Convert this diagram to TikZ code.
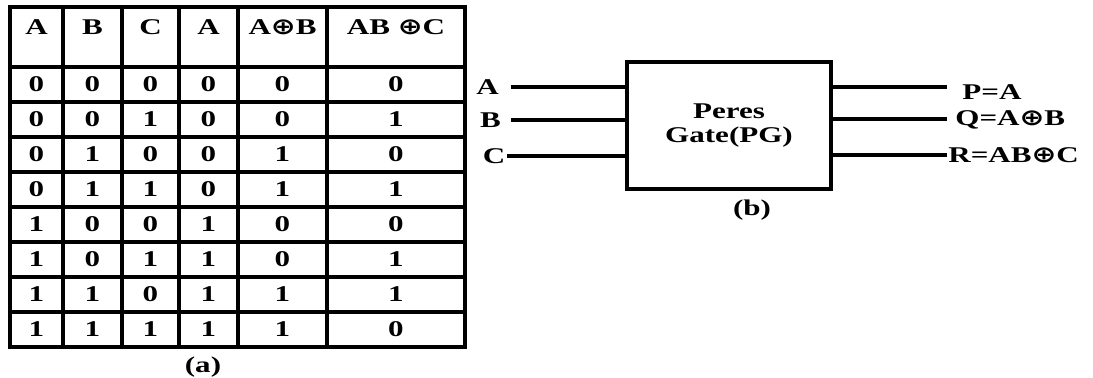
\documentclass[tikz,border=0pt]{standalone}
\usepackage{amsmath}
\usepackage{graphicx}
\usepackage{fontspec}
\setmainfont{Liberation Serif}[FakeStretch=1.38]
\newfontfamily\symfont{DejaVu Sans}[FakeStretch=1.3]
\usetikzlibrary{positioning}
\tikzset{lbl/.style = {font = \fontsize{12.8}{13.6}\selectfont\bfseries, inner sep = 0}}
\tikzset{wire/.style = {line width = 1.8pt}}
\tikzset{grid/.style = {line width = 2pt}}
\tikzset{gate/.style = {lbl, draw, line width = 2pt, align = center, minimum width = 4.08cm, minimum height = 2.54cm}}
\newcommand{\bxor}{{\symfont\bfseries\fontsize{13}{13.6}\selectfont ⊕}}
\def\colx{{36.5, 92.5, 150.5, 208.5, 282.5, 396}}

\begin{document}
\begin{tikzpicture}[x = 0.02cm, y = -0.02cm]
    \useasboundingbox (0, 0) rectangle (1093, 378);
    % truth table
    \draw [grid] (10, 7) rectangle (465, 347);
    \foreach \x in {63, 122, 179, 238, 327}
      \draw [grid] (\x, 7) -- (\x, 347);
    \foreach \y in {67, 102, 137, 172, 207, 242, 277, 312}
      \draw [grid] (10, \y) -- (465, \y);
    \foreach \t [count = \k] in {A, B, C, A, A\bxor B, AB \bxor C} {
      \pgfmathsetmacro\xx{\colx[\k - 1]}
      \node [lbl] (h\k) at (\xx, 27) {\t};
    }
    \foreach \bits [count = \r] in {{0,0,0,0,0,0}, {0,0,1,0,0,1}, {0,1,0,0,1,0}, {0,1,1,0,1,1},
                                     {1,0,0,1,0,0}, {1,0,1,1,0,1}, {1,1,0,1,1,1}, {1,1,1,1,1,0}}
      \foreach \v [count = \k] in \bits {
        \pgfmathsetmacro\xx{\colx[\k - 1]}
        \node [lbl] (v\r-\k) at (\xx, 49.5 + 35 * \r) {\v};
      }
    \node [lbl] (capa) at (203, 367) {(a)};
    % Peres gate
    \node [gate] (pg) at (729, 125.5) {Peres\\Gate(PG)};
    \node [lbl] (ina) at (487.5, 87) {A};
    \node [lbl] (inb) at (490.5, 120) {B};
    \node [lbl] (inc) at (494, 156) {C};
    \draw [wire] ([xshift = 0.24cm] ina.east) -- (ina -| pg.west);
    \draw [wire] ([xshift = 0.2cm] inb.east) -- (inb -| pg.west);
    \draw [wire] ([xshift = 0.03cm] inc.east) -- (inc -| pg.west);
    \coordinate (outp) at (947, 87);
    \coordinate (outq) at (947, 119);
    \coordinate (outr) at (947, 155);
    \draw [wire] (outp -| pg.east) -- (outp);
    \draw [wire] (outq -| pg.east) -- (outq);
    \draw [wire] (outr -| pg.east) -- (outr);
    \node [lbl, anchor = west] (p) at (962, 92) {P=A};
    \node [lbl, anchor = west] (q) at (955, 120) {Q=A\bxor B};
    \node [lbl, anchor = west] (r) at (948, 155) {R=AB\bxor C};
    \node [lbl] (capb) at (752, 210) {(b)};
\end{tikzpicture}
\end{document}
